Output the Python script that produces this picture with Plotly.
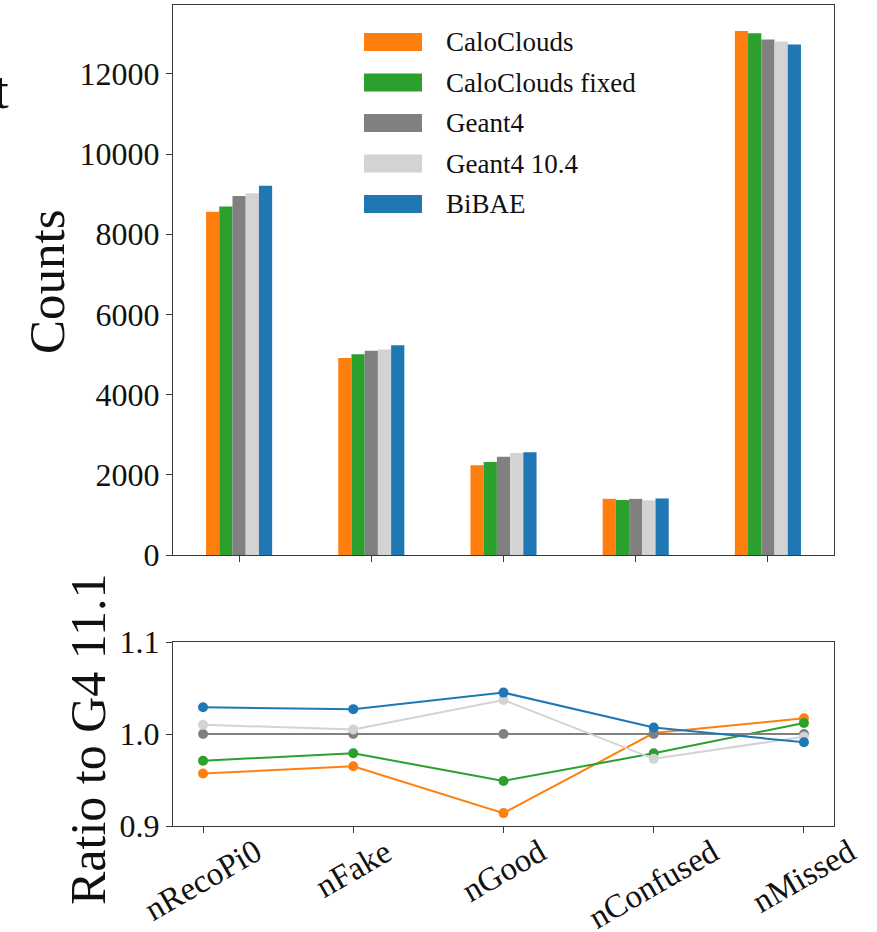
import plotly.graph_objects as go

categories = ["nRecoPi0", "nFake", "nGood", "nConfused", "nMissed"]
series_names = ["CaloClouds", "CaloClouds fixed", "Geant4", "Geant4 10.4", "BiBAE"]
series_colors = ["#ff7f0e", "#2ca02c", "#808080", "#d3d3d3", "#1f77b4"]

counts_calo = [8560, 4915, 2240, 1401, 13070]
counts_calo_fixed = [8690, 5005, 2322, 1371, 13012]
counts_g4 = [8955, 5095, 2450, 1400, 12855]
counts_g4_104 = [9020, 5125, 2543, 1362, 12810]
counts_bibae = [9212, 5230, 2565, 1410, 12735]

ratio_calo = [0.957, 0.965, 0.914, 1.001, 1.017]
ratio_calo_fixed = [0.971, 0.979, 0.949, 0.979, 1.012]
ratio_g4 = [1.0, 1.0, 1.0, 1.0, 1.0]
ratio_g4_104 = [1.010, 1.005, 1.037, 0.973, 0.997]
ratio_bibae = [1.029, 1.027, 1.045, 1.007, 0.991]

count_series = [counts_calo, counts_calo_fixed, counts_g4, counts_g4_104, counts_bibae]
ratio_series = [ratio_calo, ratio_calo_fixed, ratio_g4, ratio_g4_104, ratio_bibae]

count_ticks = [0, 2000, 4000, 6000, 8000, 10000, 12000]
count_ticklabels = ["0", "2000", "4000", "6000", "8000", "10000", "12000"]
ratio_ticks = [0.9, 1.0, 1.1]
ratio_ticklabels = ["0.9", "1.0", "1.1"]

FONT = "Liberation Serif"
AXC = "#3a3a3a"

W, H = 877, 932
L, R, T, B = 173, 43, 5, 106
PH = H - T - B
PW = W - L - R


def py(px):
    return (H - B - px) / PH


def pxx(px):
    return (px - L) / PW


fig = go.Figure()

for name, color, vals in zip(series_names, series_colors, count_series):
    fig.add_trace(go.Bar(x=categories, y=vals, name=name, marker=dict(color=color, line=dict(width=0)),
                         xaxis="x", yaxis="y", showlegend=False))

for name, color, vals in zip(series_names, series_colors, ratio_series):
    fig.add_trace(go.Scatter(x=categories, y=vals, name=name, mode="lines+markers",
                             line=dict(color=color, width=2), marker=dict(color=color, size=10),
                             xaxis="x2", yaxis="y2", showlegend=False))

axis_common = dict(showgrid=False, zeroline=False, showline=True, linecolor=AXC, linewidth=1.3,
                   mirror=True, ticks="outside", ticklen=6, tickwidth=1.3, tickcolor=AXC,
                   automargin=False,
                   tickfont=dict(family=FONT, size=32, color="#111"))

fig.update_layout(
    width=W, height=H, margin=dict(l=L, r=R, t=T, b=B, autoexpand=False),
    autosize=False, showlegend=False,
    paper_bgcolor="white", plot_bgcolor="white",
    barmode="group", bargap=0.5, bargroupgap=0,
    xaxis=dict(domain=[0, 1], anchor="y", type="category", range=[-0.5, 4.5],
               showticklabels=False, **axis_common),
    yaxis=dict(domain=[py(555), 1], anchor="x", range=[0, 13718], tickvals=count_ticks,
               ticktext=count_ticklabels, **axis_common),
    xaxis2=dict(domain=[0, 1], anchor="y2", type="category", range=[-0.2, 4.2],
                showticklabels=False, **axis_common),
    yaxis2=dict(domain=[0, py(642)], anchor="x2", range=[0.9, 1.1], tickvals=ratio_ticks,
                ticktext=ratio_ticklabels, **axis_common),
)

annotations = []
shapes = []
# legend drawn inside the top panel
for i, (name, color) in enumerate(zip(series_names, series_colors)):
    cy = 42 + 40.5 * i
    shapes.append(dict(type="rect", xref="paper", yref="paper",
                       x0=pxx(364), x1=pxx(422), y0=py(cy + 9), y1=py(cy - 9),
                       fillcolor=color, line=dict(width=0)))
    annotations.append(dict(text=name, xref="paper", yref="paper", x=pxx(444), y=py(cy),
                            xanchor="left", yanchor="middle", showarrow=False,
                            font=dict(family=FONT, size=27, color="#111")))

# rotated category labels under the ratio panel
for c in categories:
    annotations.append(dict(text=c, xref="x2", yref="paper", x=c, y=py(830),
                            xanchor="center", yanchor="top", textangle=-30, showarrow=False,
                            font=dict(family=FONT, size=33, color="#111")))

annotations.append(dict(text="Counts", xref="paper", yref="paper", x=pxx(47), y=py(282),
                        xanchor="center", yanchor="middle", textangle=-90, showarrow=False,
                        font=dict(family=FONT, size=51, color="#111")))
annotations.append(dict(text="Ratio to G4 11.1", xref="paper", yref="paper", x=pxx(88), y=py(740),
                        xanchor="center", yanchor="middle", textangle=-90, showarrow=False,
                        font=dict(family=FONT, size=50, color="#111")))
annotations.append(dict(text="t", xref="paper", yref="paper", x=pxx(11), y=py(90),
                        xanchor="right", yanchor="middle", showarrow=False,
                        font=dict(family=FONT, size=53, color="#111")))

fig.update_layout(annotations=annotations, shapes=shapes)

fig.write_html("out.html", config={"displayModeBar": False},
               post_script="document.body.style.margin='0';")
